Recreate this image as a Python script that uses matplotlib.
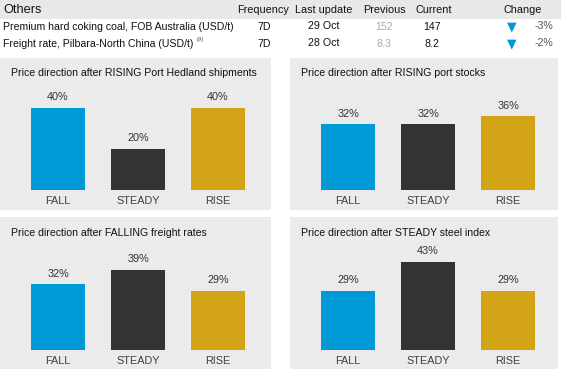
import matplotlib
matplotlib.use("Agg")
import matplotlib.pyplot as plt
from matplotlib.patches import Rectangle

plt.rcParams['font.family'] = ['Liberation Sans', 'DejaVu Sans']

# ---- data ----
table_header = ["Frequency", "Last update", "Previous", "Current", "Change"]
row_names = ["Premium hard coking coal, FOB Australia (USD/t)",
             "Freight rate, Pilbara-North China (USD/t)"]
row_notes = ["", "(9)"]
frequency = ["7D", "7D"]
last_update = ["29 Oct", "28 Oct"]
previous = ["152", "8.3"]
current = ["147", "8.2"]
change = ["-3%", "-2%"]

categories = ["FALL", "STEADY", "RISE"]
panel_titles = ["Price direction after RISING Port Hedland shipments",
                "Price direction after RISING port stocks",
                "Price direction after FALLING freight rates",
                "Price direction after STEADY steel index"]
panel_values = [[40, 20, 40],
                [32, 32, 36],
                [32, 39, 29],
                [29, 43, 29]]

bar_colors = ["#0099D8", "#333333", "#D4A417"]
panel_bg = "#EBEBEB"
text_dark = "#333333"

W, H = 561, 369
fig = plt.figure(figsize=(W / 100, H / 100), dpi=100)
fig.patch.set_facecolor("white")


def fx(x):
    return x / W


def fy(y):
    return 1 - y / H


def rect_px(x0, y0, x1, y1, color):
    fig.patches.append(Rectangle((fx(x0), fy(y1)), fx(x1) - fx(x0), fy(y0) - fy(y1),
                                 transform=fig.transFigure, facecolor=color,
                                 edgecolor="none", zorder=-5))


# ---- header table ----
rect_px(0, 0, W, 19, "#E8E8E8")
fig.text(fx(3), fy(10), "Others", fontsize=9.2, color="#111111", va="center", ha="left")
col_x = [263, 324, 384, 434, 523]
for cx, lab in zip(col_x, table_header):
    fig.text(fx(cx), fy(10), lab, fontsize=7.8, color="#111111", va="center", ha="center")

row_y = [27, 44]
for i, y in enumerate(row_y):
    fig.text(fx(3), fy(y), row_names[i], fontsize=7.6, color="#111111", va="center", ha="left")
    if row_notes[i]:
        fig.text(fx(197), fy(y - 4), row_notes[i], fontsize=4.3, color="#555555",
                 va="center", ha="left")
    fig.text(fx(264), fy(y), frequency[i], fontsize=7.7, color="#111111", va="center", ha="center")
    fig.text(fx(324), fy(y - 1), last_update[i], fontsize=7.7, color="#111111", va="center", ha="center")
    fig.text(fx(384), fy(y), previous[i], fontsize=7.7, color="#AAAAAA", va="center", ha="center")
    fig.text(fx(432), fy(y), current[i], fontsize=7.7, color="#111111", va="center", ha="center")
    fig.text(fx(512), fy(y), "\u25BC", fontsize=9.0, color="#0099D8", va="center", ha="center",
             family="DejaVu Sans")
    fig.text(fx(553), fy(y - 1), change[i], fontsize=7.7, color="#555555", va="center", ha="right")

# ---- panels ----
panels = [
    dict(box=(0, 58, 271, 210), title_xy=(11, 73), ax_x=18, base=190),
    dict(box=(290, 58, 558, 210), title_xy=(301, 73), ax_x=308, base=190),
    dict(box=(0, 217, 271, 369), title_xy=(11, 233), ax_x=18, base=350),
    dict(box=(290, 217, 558, 369), title_xy=(301, 233), ax_x=308, base=350),
]
ymax = 45
px_per_pct = 2.05
ax_w = 240
for p, title, vals in zip(panels, panel_titles, panel_values):
    x0, y0, x1, y1 = p["box"]
    rect_px(x0, y0, x1, y1, panel_bg)
    fig.text(fx(p["title_xy"][0]), fy(p["title_xy"][1]), title, fontsize=7.6,
             color="#111111", va="center", ha="left")
    ax_h = ymax * px_per_pct
    ax = fig.add_axes([fx(p["ax_x"]), fy(p["base"]), ax_w / W, ax_h / H])
    ax.set_zorder(2)
    ax.patch.set_visible(False)
    xs = range(len(categories))
    bars = ax.bar(xs, vals, width=0.675, color=bar_colors)
    ax.set_xlim(-0.5, 2.5)
    ax.set_ylim(0, ymax)
    for b, v in zip(bars, vals):
        ax.annotate(f"{v}%", (b.get_x() + b.get_width() / 2, v), xytext=(0, 4),
                    textcoords="offset points", ha="center", va="bottom",
                    fontsize=7.8, color=text_dark)
    ax.set_xticks(list(xs))
    ax.set_xticklabels(categories, fontsize=7.8, color="#404040")
    ax.tick_params(axis="x", length=0, pad=4)
    ax.set_yticks([])
    for s in ax.spines.values():
        s.set_visible(False)

fig.savefig("out.png", dpi=100, facecolor="white")
